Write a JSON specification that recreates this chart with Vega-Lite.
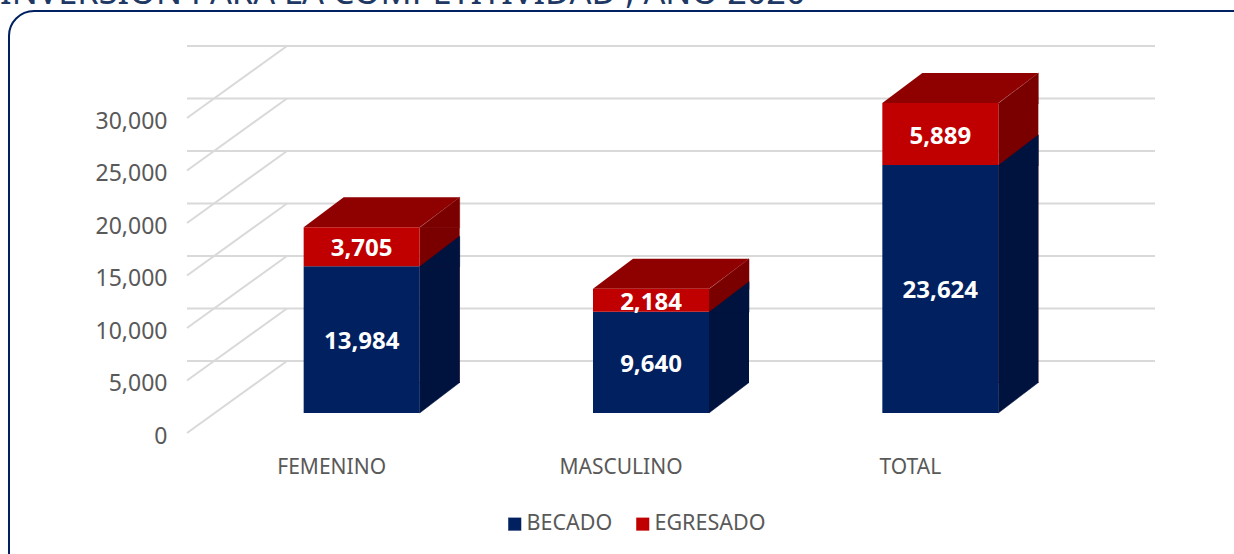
{
"$schema":"https://vega.github.io/schema/vega-lite/v6.json",
"width":868,"height":315,
"autosize":{"type":"none"},
"padding":{"left":187,"right":179,"top":118,"bottom":121},
"background":"white",
"config":{"view":{"stroke":null},"font":"Noto Sans"},
"data":{"values":[
{"cat":"FEMENINO","serie":"BECADO","valor":13984},
{"cat":"FEMENINO","serie":"EGRESADO","valor":3705},
{"cat":"MASCULINO","serie":"BECADO","valor":9640},
{"cat":"MASCULINO","serie":"EGRESADO","valor":2184},
{"cat":"TOTAL","serie":"BECADO","valor":23624},
{"cat":"TOTAL","serie":"EGRESADO","valor":5889}
]},
"transform":[{"stack":"valor","groupby":["cat"],"sort":[{"field":"serie","order":"ascending"}],"as":["y0","y1"]}],
"encoding":{
"x":{"field":"cat","type":"nominal","sort":null,"scale":{"paddingInner":0,"paddingOuter":0},
"axis":{"title":null,"domain":false,"ticks":false,"labelAngle":0,"labelFontSize":21,"labelColor":"#595959","labelFont":"Noto Sans","labelPadding":23}}
},
"layer":[
{"data":{"values":[{"g":0},{"g":5000},{"g":10000},{"g":15000},{"g":20000},{"g":25000},{"g":30000}]},
"transform":[],
"mark":{"type":"rule","color":"#d9d9d9","strokeWidth":2,"xOffset":100,"x2Offset":100,"yOffset":-72},
"encoding":{"x":null,"y":{"field":"g","type":"quantitative","scale":{"domain":[0,30000],"nice":false,"zero":true},
"axis":{"title":null,"domain":false,"ticks":false,"grid":false,"values":[0,5000,10000,15000,20000,25000,30000],"format":",.0f","labelFontSize":23,"labelColor":"#595959","labelFont":"Noto Sans","labelPadding":20,"labelOffset":3}}}},
{"data":{"values":[{"g":0},{"g":5000},{"g":10000},{"g":15000},{"g":20000},{"g":25000},{"g":30000}]},
"transform":[],
"mark":{"type":"point","shape":"M-434,0L-334,-72","stroke":"#d9d9d9","strokeWidth":2,"fill":null,"size":4,"opacity":1},
"encoding":{"x":null,"y":{"field":"g","type":"quantitative"}}},
{"transform":[{"filter":"datum.serie==='EGRESADO'"}],
"mark":{"type":"bar","width":40,"color":"#7a0000","xOffset":108,"yOffset":-20,"y2Offset":-50},
"encoding":{"y":{"field":"y1","type":"quantitative"},"y2":{"datum":0}}},
{"transform":[{"filter":"datum.serie==='EGRESADO'"}],
"mark":{"type":"point","shape":"M88,0.5L128,-30L128,0.5Z","filled":true,"color":"#7a0000","stroke":"#7a0000","strokeWidth":0.5,"size":4,"opacity":1,"yOffset":-20},
"encoding":{"y":{"field":"y1","type":"quantitative"}}},
{"transform":[{"filter":"datum.serie==='EGRESADO'"}],
"mark":{"type":"point","shape":"M-28,0L12,-30L128,-30L88,0Z","filled":true,"color":"#8f0000","size":4,"opacity":1,"yOffset":-20},
"encoding":{"y":{"field":"y1","type":"quantitative"}}},
{"transform":[{"filter":"datum.serie==='BECADO'"}],
"mark":{"type":"bar","width":40,"color":"#00133f","xOffset":108,"yOffset":-20,"y2Offset":-50},
"encoding":{"y":{"field":"y1","type":"quantitative"},"y2":{"datum":0}}},
{"transform":[{"filter":"datum.serie==='BECADO'"}],
"mark":{"type":"point","shape":"M88,0.5L128,-30L128,0.5Z","filled":true,"color":"#00133f","stroke":"#00133f","strokeWidth":0.5,"size":4,"opacity":1,"yOffset":-20},
"encoding":{"y":{"field":"y1","type":"quantitative"}}},
{"transform":[{"filter":"datum.serie==='BECADO'"}],
"mark":{"type":"point","shape":"M88,-0.5L128,-0.5L88,30Z","filled":true,"color":"#00133f","stroke":"#00133f","strokeWidth":0.5,"size":4,"opacity":1,"yOffset":-50},
"encoding":{"y":{"datum":0}}},
{"mark":{"type":"bar","width":116,"xOffset":30,"yOffset":-20,"y2Offset":-20},
"encoding":{"y":{"field":"y1","type":"quantitative"},"y2":{"field":"y0"},
"color":{"field":"serie","type":"nominal","scale":{"domain":["BECADO","EGRESADO"],"range":["#002060","#c00000"]},
"legend":{"title":null,"orient":"none","legendX":317,"legendY":395,"direction":"horizontal","symbolType":"square","symbolSize":170,"symbolStrokeWidth":0,"labelFontSize":21.5,"labelColor":"#595959","labelFont":"Noto Sans","columnPadding":19,"labelOffset":1}}}},
{"mark":{"type":"text","color":"white","fontWeight":"bold","fontSize":24,"font":"Noto Sans","xOffset":30,"yOffset":-20,"dy":2.5},
"encoding":{"y":{"field":"valor","type":"quantitative","stack":"zero","bandPosition":0.5},"order":{"field":"serie"},"detail":{"field":"serie"},"text":{"field":"valor","type":"quantitative","format":","}}},
{"data":{"values":[{"t":"marco"}]},"transform":[],
"mark":{"type":"point","shape":"M-612,290L-612,-239A25,25 0 0 1 -587,-264.5L620,-264.5","stroke":"#002060","strokeWidth":2,"fill":null,"size":4,"opacity":1},
"encoding":{"x":null}},
{"data":{"values":[{"t":"INVERSIÓN PARA LA COMPETITIVIDAD , AÑO 2020"}]},"transform":[],
"mark":{"type":"text","align":"left","baseline":"alphabetic","fontSize":34.3,"font":"Noto Sans","color":"#203864","dx":-621,"dy":-272},
"encoding":{"x":null,"text":{"field":"t"}}}
]
}
